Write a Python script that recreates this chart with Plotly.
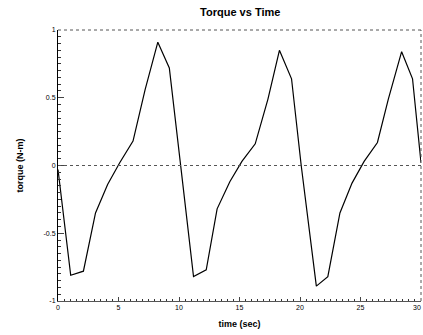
import plotly.graph_objects as go

time_sec = [0, 1.05, 2.1, 3.1, 4.1, 5.1, 6.2, 7.2, 8.25, 9.2, 10.15,
            11.2, 12.25, 13.15, 14.2, 15.2, 16.3, 17.35, 18.3, 19.3, 20.1,
            21.35, 22.3, 23.3, 24.3, 25.3, 26.4, 27.3, 28.4, 29.3, 30.0]
torque = [-0.03, -0.81, -0.78, -0.35, -0.14, 0.02, 0.18, 0.56, 0.91, 0.72, -0.01,
          -0.82, -0.77, -0.32, -0.12, 0.03, 0.16, 0.49, 0.85, 0.64, 0.0,
          -0.89, -0.82, -0.35, -0.13, 0.03, 0.17, 0.49, 0.84, 0.64, 0.02]

x_ticks = [0, 5, 10, 15, 20, 25, 30]
x_tick_text = ["0", "5", "10", "15", "20", "25", ""]
y_ticks = [-1, -0.5, 0, 0.5, 1]
y_tick_text = ["-1", "-0.5", "0", "0.5", "1"]

font_family = "Liberation Sans, Arial, sans-serif"

fig = go.Figure()
fig.add_trace(go.Scatter(x=time_sec, y=torque, mode="lines",
                         line=dict(color="black", width=1.2), showlegend=False))

# dotted frame (top/right) and zero line
fig.add_shape(type="line", xref="paper", yref="paper", x0=0, x1=1, y0=1, y1=1,
              line=dict(color="#555", width=1, dash="dot"))
fig.add_shape(type="line", xref="paper", yref="paper", x0=1, x1=1, y0=0, y1=1,
              line=dict(color="#555", width=1, dash="dot"))
fig.add_shape(type="line", xref="paper", yref="y", x0=0, x1=1, y0=0, y1=0,
              line=dict(color="#555", width=1, dash="dot"))

# last x tick label, kept inside the right edge
fig.add_annotation(x=x_ticks[-1], xref="x", y=0, yref="paper", text="30",
                   showarrow=False, yanchor="top", yshift=-1, xanchor="right",
                   xshift=2, font=dict(size=7, family=font_family))

fig.update_layout(
    width=423, height=335,
    margin=dict(l=58, r=2, t=30, b=34),
    paper_bgcolor="white", plot_bgcolor="white",
    font=dict(family=font_family, color="black"),
    title=dict(text="<b>Torque vs Time</b>", x=0.568, xanchor="center",
               y=0.965, yanchor="middle", font=dict(size=11)),
    xaxis=dict(range=[0, 30], tickvals=x_ticks, ticktext=x_tick_text,
               ticks="inside", ticklen=4,
               tickfont=dict(size=7), showgrid=False, zeroline=False,
               showline=True, linecolor="#555", linewidth=1,
               minor=dict(dtick=0.5, ticks="inside", ticklen=2, tickcolor="#333"),
               title=dict(text="<b>time (sec)</b>", font=dict(size=9), standoff=10)),
    yaxis=dict(range=[-1, 1], tickvals=y_ticks, ticktext=y_tick_text,
               ticks="inside", ticklen=6, tickfont=dict(size=7),
               showgrid=False, zeroline=False, showline=True,
               linecolor="black", linewidth=1,
               minor=dict(dtick=0.05, ticks="inside", ticklen=3, tickcolor="#333"),
               title=dict(text="<b>torque (N-m)</b>", font=dict(size=9), standoff=18)),
)

fig.write_html("out.html", config={"displayModeBar": False},
               post_script="document.body.style.margin='0';document.body.style.overflow='hidden';")
